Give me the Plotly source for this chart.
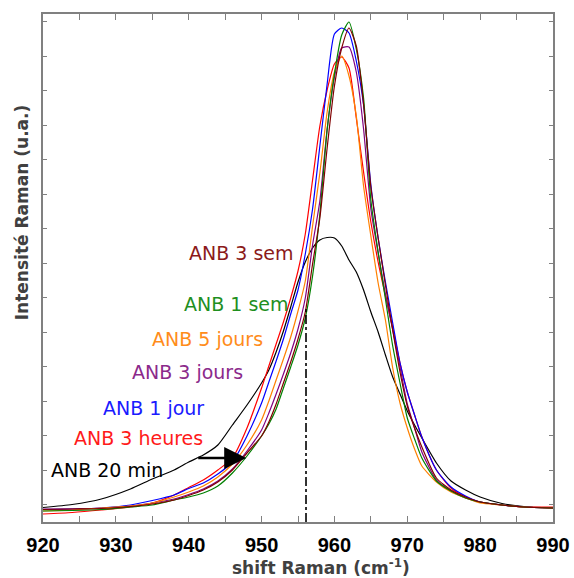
import plotly.graph_objects as go

# Raman shift grid (cm-1)
shift = [920, 924, 928, 932, 935, 938, 940, 942, 944, 946, 948, 950, 951, 952, 953, 954, 955, 956, 957, 958,
         959, 960, 961, 962, 963, 964, 965, 966, 967, 968, 969, 970, 971, 972, 974, 976, 978, 980, 983, 986, 990]

# Intensities (u.a.)
anb_20min = [14.5, 17.5, 23, 33, 43, 52, 60, 67, 77, 97, 117, 139, 152, 170, 191, 215, 240, 260, 274, 282,
             284.5, 284, 276, 262, 250, 232, 210, 190, 167, 145, 128, 111, 97, 84, 59, 41, 32, 25, 18.5, 15.5, 14]
anb_3h = [8, 9.5, 12, 15, 19, 27, 34.5, 42, 52, 64, 94, 134, 156, 178, 200, 224, 251, 288, 342, 396,
          432, 458, 465, 454, 404, 350, 300, 260, 226, 194, 159, 130, 107, 85, 52, 34, 25, 20, 17, 15, 15]
anb_1j = [12.5, 13, 14, 17, 21.5, 27, 33.5, 39, 48, 60, 86, 119, 140, 161, 183, 208, 232, 268, 313, 376,
          438, 488, 494, 489, 461, 417, 337, 284, 240, 199, 159, 130, 107, 85, 52, 35, 26, 20, 17, 15, 14]
anb_3j = [13, 13, 14, 16, 19, 23, 27.5, 33, 41, 53, 71, 92, 109, 128, 148, 169, 193, 224, 277, 321,
          393, 445, 474, 475, 450, 393, 313, 269, 228, 192, 155, 118, 94, 70, 42, 31, 24, 20, 17, 15, 14]
anb_5j = [11, 12, 14, 16, 19, 25, 30, 36, 45, 58, 77, 102, 121, 142, 163, 185, 211, 241, 296, 349,
          410, 450, 466, 446, 406, 336, 286, 239, 202, 154, 119, 94, 73, 56, 40, 30, 24, 19, 17, 15, 14]
anb_1sem = [11, 11.5, 12.5, 15, 17, 22, 25, 29, 36, 49, 66, 86, 98, 113, 134, 155, 177, 204, 246, 308,
            392, 448, 487, 500, 473, 424, 322, 270, 223, 176, 139, 104, 83, 64, 41, 31, 24, 20, 17, 15, 14]
anb_3sem = [12.5, 13, 13.5, 15.5, 18, 22, 26.5, 32, 40, 52, 69, 86, 100, 118, 139, 160, 183, 210, 258, 304,
            374, 436, 474, 494, 476, 418, 335, 284, 237, 192, 150, 116, 94, 75, 44, 32, 25, 20, 17, 15, 14]

series_names = ["ANB 20 min", "ANB 3 heures", "ANB 1 jour", "ANB 3 jours", "ANB 5 jours", "ANB 1 sem", "ANB 3 sem"]
series_values = [anb_20min, anb_3h, anb_1j, anb_3j, anb_5j, anb_1sem, anb_3sem]
line_colors = ["#000000", "#FF0000", "#0000FF", "#800080", "#FF8000", "#008000", "#800000"]
text_colors = ["#000000", "#FF1A1A", "#1A1AFF", "#8B2A8B", "#FF8C1A", "#1F8F1F", "#8B1A1A"]

# label positions (data coordinates)
label_x = [928.85, 933.1, 935.1, 939.8, 942.6, 946.5, 947.2]
label_y = [52, 84, 114, 150, 183, 218, 269]

# reference line and arrow
ref_x = [956.1, 956.1]
ref_y = [0, 215]
arrow_from = (941.1, 64)
arrow_to = (947.9, 64)

fig = go.Figure()
for name, vals, col in zip(series_names, series_values, line_colors):
    fig.add_trace(go.Scatter(x=shift, y=vals, mode="lines", name=name, hoverinfo="skip",
                             line=dict(color=col, width=1.2, shape="spline", smoothing=0.6)))

fig.add_trace(go.Scatter(x=ref_x, y=ref_y, mode="lines", hoverinfo="skip",
                         line=dict(color="black", width=1.6, dash="dashdot")))

annotations = []
for name, x, y, col in zip(series_names, label_x, label_y, text_colors):
    annotations.append(dict(x=x, y=y, xref="x", yref="y", text=name, showarrow=False,
                            font=dict(family="DejaVu Sans", size=19, color=col),
                            xanchor="center", yanchor="middle"))
annotations.append(dict(x=arrow_to[0], y=arrow_to[1], ax=arrow_from[0], ay=arrow_from[1],
                        xref="x", yref="y", axref="x", ayref="y", text="", showarrow=True,
                        arrowhead=2, arrowsize=1.7, arrowwidth=2.6, arrowcolor="black"))
annotations.append(dict(x=0.545, y=-0.088, xref="paper", yref="paper",
                        text="shift Raman (cm<sup>-1</sup>)", showarrow=False,
                        font=dict(family="DejaVu Sans", size=17, color="#404040", weight="bold"),
                        xanchor="center", yanchor="middle"))
annotations.append(dict(x=-0.041, y=0.61, xref="paper", yref="paper",
                        text="Intensité Raman (u.a.)", showarrow=False, textangle=-90,
                        font=dict(family="DejaVu Sans", size=17, color="#404040", weight="bold"),
                        xanchor="center", yanchor="middle"))

fig.update_layout(
    width=574, height=578, autosize=False,
    margin=dict(l=43, r=21, t=14, b=56),
    paper_bgcolor="white", plot_bgcolor="white",
    showlegend=False,
    annotations=annotations,
    xaxis=dict(range=[920, 990], dtick=10, tick0=920, ticks="inside", ticklen=6, tickwidth=1,
               tickcolor="#808080", showline=True, linecolor="#808080", linewidth=2, mirror="ticks",
               showgrid=False, zeroline=False, ticklabelstandoff=4, automargin=False,
               tickfont=dict(family="Liberation Sans", size=20, color="black", weight="bold"),
               minor=dict(dtick=5, ticks="inside", ticklen=6, tickcolor="#808080", showgrid=False)),
    yaxis=dict(range=[0, 508], tick0=17.5, dtick=34.5, ticks="inside", ticklen=4, tickwidth=1,
               tickcolor="#808080", showline=True, linecolor="#808080", linewidth=2, mirror="ticks",
               showgrid=False, zeroline=False, showticklabels=False, automargin=False),
)

fig.write_html("out.html",
               config={"responsive": False, "displayModeBar": False},
               post_script="document.body.style.margin='0';document.body.style.overflow='hidden';")
